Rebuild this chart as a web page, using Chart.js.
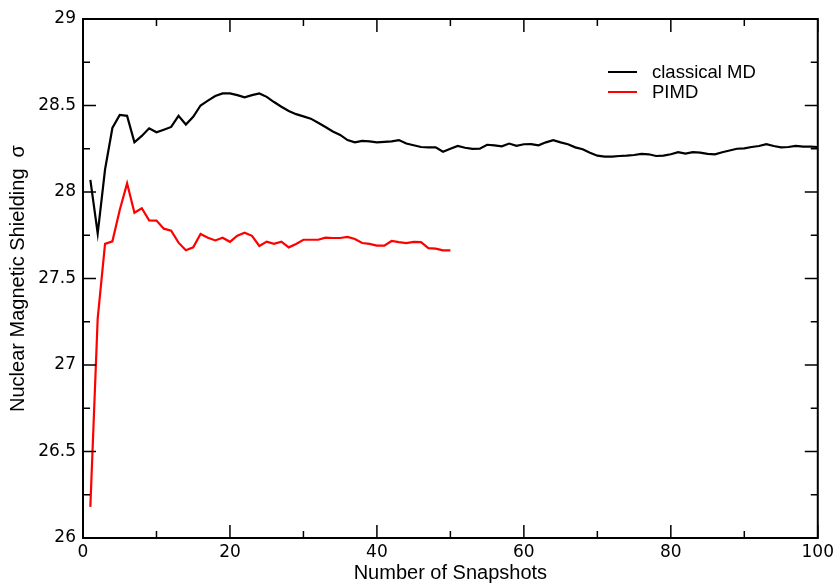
<!DOCTYPE html>
<html>
<head>
<meta charset="utf-8">
<script src="https://cdn.jsdelivr.net/npm/chart.js@4/dist/chart.umd.min.js"></script>
<style>
	html, body { margin: 0; padding: 0; background: #fff; }
	#wrap { width: 838px; height: 585px; }
</style>
</head>
<body>
<div id="wrap"><canvas id="chart" width="838" height="585"></canvas></div>
<script>
// running average of the shielding vs number of snapshots
let classicalMD = [
	28.07, 27.76, 28.13, 28.37, 28.445, 28.44, 28.287, 28.324, 28.368, 28.345,
	28.36, 28.376, 28.44, 28.39, 28.435, 28.50, 28.528, 28.555, 28.57, 28.57,
	28.56, 28.547, 28.56, 28.57, 28.55, 28.52, 28.493, 28.468, 28.45, 28.437,
	28.424, 28.40, 28.376, 28.35, 28.33, 28.30, 28.287, 28.295, 28.293, 28.287,
	28.29, 28.293, 28.30, 28.28, 28.27, 28.26, 28.258, 28.258, 28.233, 28.25,
	28.266, 28.256, 28.249, 28.25, 28.273, 28.27, 28.264, 28.28, 28.267, 28.276,
	28.277, 28.27, 28.287, 28.30, 28.287, 28.276, 28.258, 28.247, 28.227, 28.21,
	28.204, 28.204, 28.208, 28.21, 28.214, 28.22, 28.218, 28.208, 28.21, 28.218,
	28.23, 28.222, 28.23, 28.228, 28.22, 28.218, 28.23, 28.24, 28.25, 28.252,
	28.26, 28.266, 28.277, 28.266, 28.258, 28.26, 28.266, 28.262, 28.262, 28.26
];
let pimd = [
	26.18, 27.27, 27.70, 27.715, 27.896, 28.05, 27.88, 27.906, 27.836, 27.835,
	27.788, 27.776, 27.707, 27.663, 27.68, 27.757, 27.736, 27.72, 27.736, 27.712,
	27.747, 27.765, 27.747, 27.688, 27.713, 27.70, 27.713, 27.68, 27.70, 27.724,
	27.724, 27.724, 27.736, 27.734, 27.734, 27.74, 27.728, 27.705, 27.70, 27.69,
	27.69, 27.717, 27.71, 27.705, 27.712, 27.71, 27.676, 27.673, 27.663, 27.663
];
let seriesNames = ["classical MD", "PIMD"];
let seriesColors = ["#000000", "#ff0000"];
let xTicks = [0, 20, 40, 60, 80, 100];
let yTicks = [26, 26.5, 27, 27.5, 28, 28.5, 29];

const sansFont = "'Liberation Sans', Arial, sans-serif";
const tickFont = "'DejaVu Sans', sans-serif";

function toPoints(values) {
	let pts = [];
	for (let i = 0; i < values.length; i++) {
		pts.push({ x: i + 1, y: values[i] });
	}
	return pts;
}

// frame, inward ticks (major + minor on all four sides) and the legend box
const framePlugin = {
	id: "frame",
	afterDraw(chart) {
		const ctx = chart.ctx;
		const a = chart.chartArea;
		const xs = chart.scales.x;
		const ys = chart.scales.y;
		ctx.save();
		ctx.strokeStyle = "#000";
		ctx.lineWidth = 2;
		ctx.strokeRect(a.left, a.top, a.right - a.left, a.bottom - a.top);

		ctx.lineWidth = 1.5;
		ctx.beginPath();
		for (let v = 0; v <= 100; v += 10) {
			let len = (v % 20 == 0) ? 13 : 7;
			let px = xs.getPixelForValue(v);
			ctx.moveTo(px, a.bottom); ctx.lineTo(px, a.bottom - len);
			ctx.moveTo(px, a.top); ctx.lineTo(px, a.top + len);
		}
		for (let k = 0; k <= 12; k++) {
			let v = 26 + k * 0.25;
			let len = (k % 2 == 0) ? 13 : 7;
			let py = ys.getPixelForValue(v);
			ctx.moveTo(a.left, py); ctx.lineTo(a.left + len, py);
			ctx.moveTo(a.right, py); ctx.lineTo(a.right - len, py);
		}
		ctx.stroke();

		// legend
		ctx.font = "18.5px " + sansFont;
		ctx.textBaseline = "middle";
		ctx.textAlign = "left";
		for (let i = 0; i < seriesNames.length; i++) {
			let ly = 72 + i * 20;
			ctx.strokeStyle = seriesColors[i];
			ctx.lineWidth = 2;
			ctx.beginPath();
			ctx.moveTo(608, ly); ctx.lineTo(637, ly);
			ctx.stroke();
			ctx.fillStyle = "#000";
			ctx.fillText(seriesNames[i], 652, ly + 1);
		}
		ctx.restore();
	}
};

new Chart(document.getElementById("chart"), {
	type: "line",
	data: {
		datasets: [
			{
				label: seriesNames[0],
				data: toPoints(classicalMD),
				borderColor: seriesColors[0],
				borderWidth: 2.2,
				pointRadius: 0,
				tension: 0
			},
			{
				label: seriesNames[1],
				data: toPoints(pimd),
				borderColor: seriesColors[1],
				borderWidth: 2.2,
				pointRadius: 0,
				tension: 0
			}
		]
	},
	options: {
		responsive: false,
		animation: false,
		devicePixelRatio: 1,
		layout: { padding: { top: 19, right: 18, left: 0, bottom: 0 } },
		plugins: {
			legend: { display: false },
			tooltip: { enabled: false }
		},
		scales: {
			x: {
				type: "linear",
				min: 0,
				max: 100,
				afterBuildTicks: (s) => { s.ticks = xTicks.map((v) => ({ value: v })); },
				afterFit: (s) => { s.height = 47; },
				grid: { display: false, drawTicks: false },
				border: { display: false },
				ticks: {
					color: "#000",
					padding: 4,
					maxRotation: 0,
					font: { family: tickFont, size: 17 }
				},
				title: {
					display: true,
					text: "Number of Snapshots",
					color: "#000",
					padding: { top: 0, bottom: 0 },
					font: { family: sansFont, size: 20 }
				}
			},
			y: {
				type: "linear",
				min: 26,
				max: 29,
				afterBuildTicks: (s) => { s.ticks = yTicks.map((v) => ({ value: v })); },
				afterFit: (s) => { s.width = 83; },
				grid: { display: false, drawTicks: false },
				border: { display: false },
				ticks: {
					color: "#000",
					padding: 7,
					callback: (v) => String(v),
					font: { family: tickFont, size: 17 }
				},
				title: {
					display: true,
					text: "Nuclear Magnetic Shielding  σ",
					color: "#000",
					padding: { top: 6, bottom: 0 },
					font: { family: sansFont, size: 20 }
				}
			}
		}
	},
	plugins: [framePlugin]
});
</script>
</body>
</html>
